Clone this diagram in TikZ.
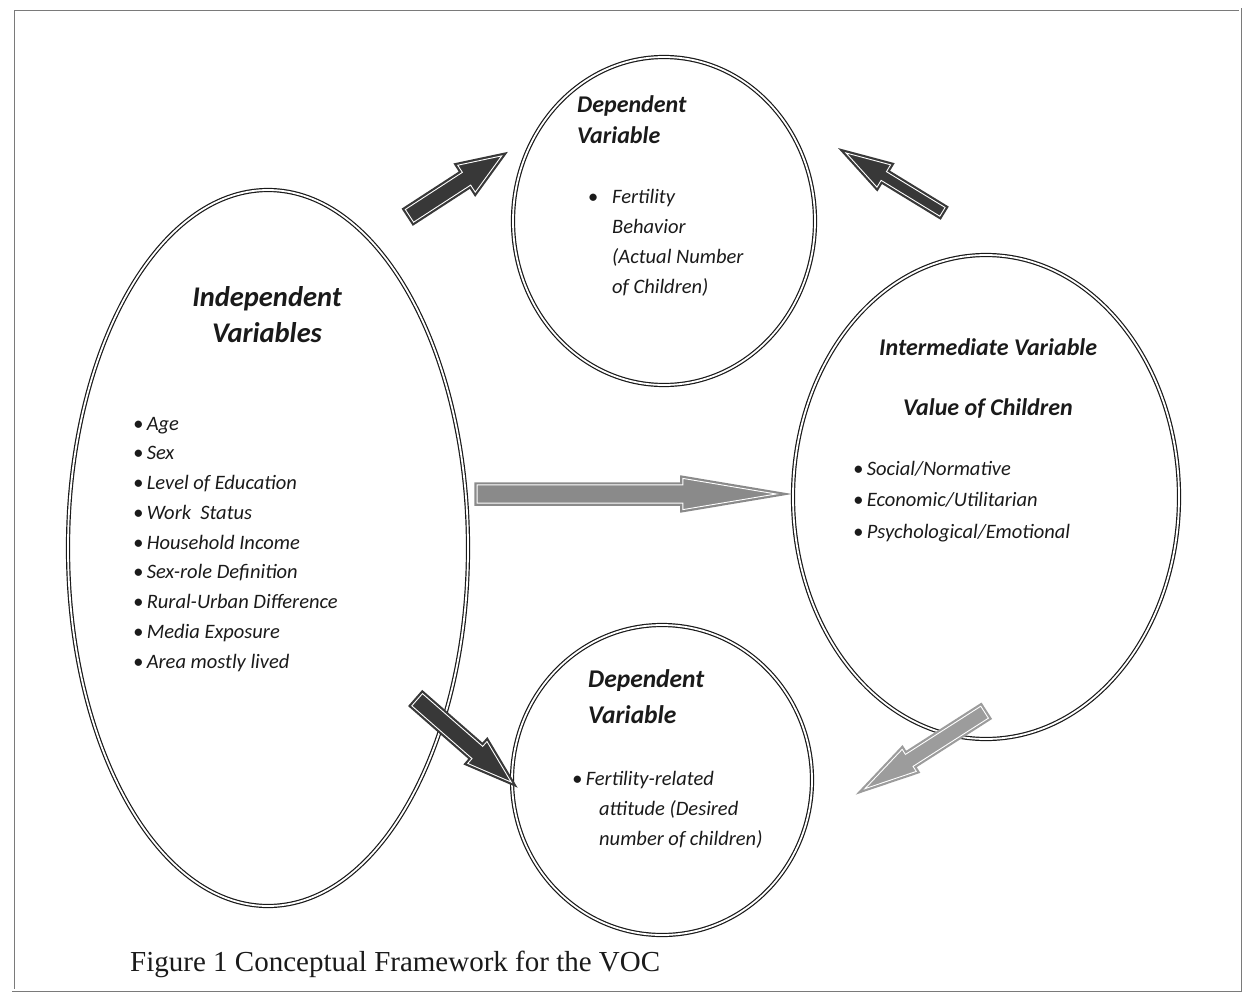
\documentclass[tikz,border=0pt]{standalone}
\usepackage{fontspec}
\setmainfont{Carlito}
\newfontfamily\captionfont{Liberation Serif}
\usepackage{xcolor}
\usepackage{tikz}
\definecolor{vocInk}{HTML}{1A1A1A}
\definecolor{vocFrame}{HTML}{7A7A7A}
\definecolor{vocDark}{HTML}{383838}
\definecolor{vocGrey}{HTML}{8A8A8A}
\definecolor{vocLight}{HTML}{9C9C9C}
\usetikzlibrary{arrows.meta,shapes.geometric,shapes.arrows}

\begin{document}
\begin{tikzpicture}[
  x=1pt, y=-1pt,
  varoval/.style={ellipse, draw=vocInk, line width=1.2pt, double=white, double distance=1.8pt, inner sep=0pt},
  blockarrow/.style={single arrow, single arrow head indent=0pt, inner xsep=0pt, anchor=tail, draw=#1, fill=#1, double=white, double distance=0.9pt, line width=2.2pt},
  heading/.style={font=\fontsize{24}{31}\selectfont\bfseries\itshape, text=vocInk, anchor=base west, inner sep=0pt, align=left},
  itemtext/.style={font=\fontsize{20.5}{30}\selectfont\itshape, text=vocInk, anchor=base west, inner sep=0pt, align=left}
]
\useasboundingbox (0,0) rectangle (1247,996);

% Outer frame
\draw[vocFrame, line width=0.8pt, double=white, double distance=1.4pt] (13,9) rectangle (1240,990);

% Variable ovals
\node[varoval, minimum width=400pt, minimum height=716pt] (indep) at (268,548) {};
\node[varoval, minimum width=302pt, minimum height=328pt] (depTop) at (664,221) {};
\node[varoval, minimum width=386pt, minimum height=484pt] (inter) at (986,497) {};
\node[varoval, minimum width=300pt, minimum height=310pt] (depBottom) at (662,780) {};

% Independent variables (base = last line)
\node[heading, font=\fontsize{28.5}{36}\selectfont\bfseries\itshape, anchor=base, align=center] (indepTitle) at (267,342) {Independent\\Variables};
\node[itemtext, font=\fontsize{20.5}{29.75}\selectfont\itshape] (indepList) at (133,668) {\textbullet\,Age\\\textbullet\,Sex\\\textbullet\,Level of Education\\\textbullet\,Work\ \ Status\\\textbullet\,Household Income\\\textbullet\,Sex-role Definition\\\textbullet\,Rural-Urban Difference\\\textbullet\,Media Exposure\\\textbullet\,Area mostly lived};

% Dependent variable (top)
\node[heading] (depTopTitle) at (577,143) {Dependent\\Variable};
\node[itemtext, anchor=base] (depTopBullet) at (593,203) {\textbullet};
\node[itemtext] (depTopList) at (612,293) {Fertility\\Behavior\\(Actual Number\\of Children)};

% Intermediate variable
\node[heading] (interTitle) at (879,355) {Intermediate Variable};
\node[heading] (interSub) at (903,415) {Value of Children};
\node[itemtext, font=\fontsize{20.5}{31.5}\selectfont\itshape] (interList) at (853,538) {\textbullet\,Social/Normative\\\textbullet\,Economic/Utilitarian\\\textbullet\,Psychological/Emotional};

% Dependent variable (bottom)
\node[heading, font=\fontsize{25.5}{36}\selectfont\bfseries\itshape] (depBotTitle) at (588,723) {Dependent\\Variable};
\node[itemtext] (depBotList) at (572,785) {\textbullet\,Fertility-related};
\node[itemtext] (depBotMore) at (599,845) {attitude (Desired\\number of children)};

% Block arrows (placed by their tails)
\node[blockarrow=vocDark, rotate=33, minimum height=110pt, minimum width=30pt, inner ysep=6.5pt, single arrow tip angle=42, single arrow head extend=8.5pt] (indepToTop) at (408.5,216.4) {};
\node[blockarrow=vocDark, rotate=148.6, minimum height=113pt, minimum width=24pt, inner ysep=4pt, single arrow tip angle=33, single arrow head extend=8pt] (interToTop) at (943.4,212.4) {};
\node[blockarrow=vocGrey, minimum height=299pt, minimum width=29pt, inner ysep=8pt, single arrow tip angle=19, single arrow head extend=6.5pt] (indepToInter) at (476,494) {};
\node[blockarrow=vocDark, rotate=-41.2, minimum height=125pt, minimum width=27pt, inner ysep=7pt, single arrow tip angle=36, single arrow head extend=6.5pt] (indepToBottom) at (416.3,699) {};
\node[blockarrow=vocLight, rotate=212.6, minimum height=142pt, minimum width=24pt, inner ysep=6pt, single arrow tip angle=28, single arrow head extend=6pt] (interToBottom) at (985.5,711.6) {};

% Caption
\node[font=\captionfont\fontsize{29}{35}\selectfont, text=vocInk, anchor=base west, inner sep=0pt] (caption) at (130,971) {Figure 1 Conceptual Framework for the VOC};

\end{tikzpicture}
\end{document}
